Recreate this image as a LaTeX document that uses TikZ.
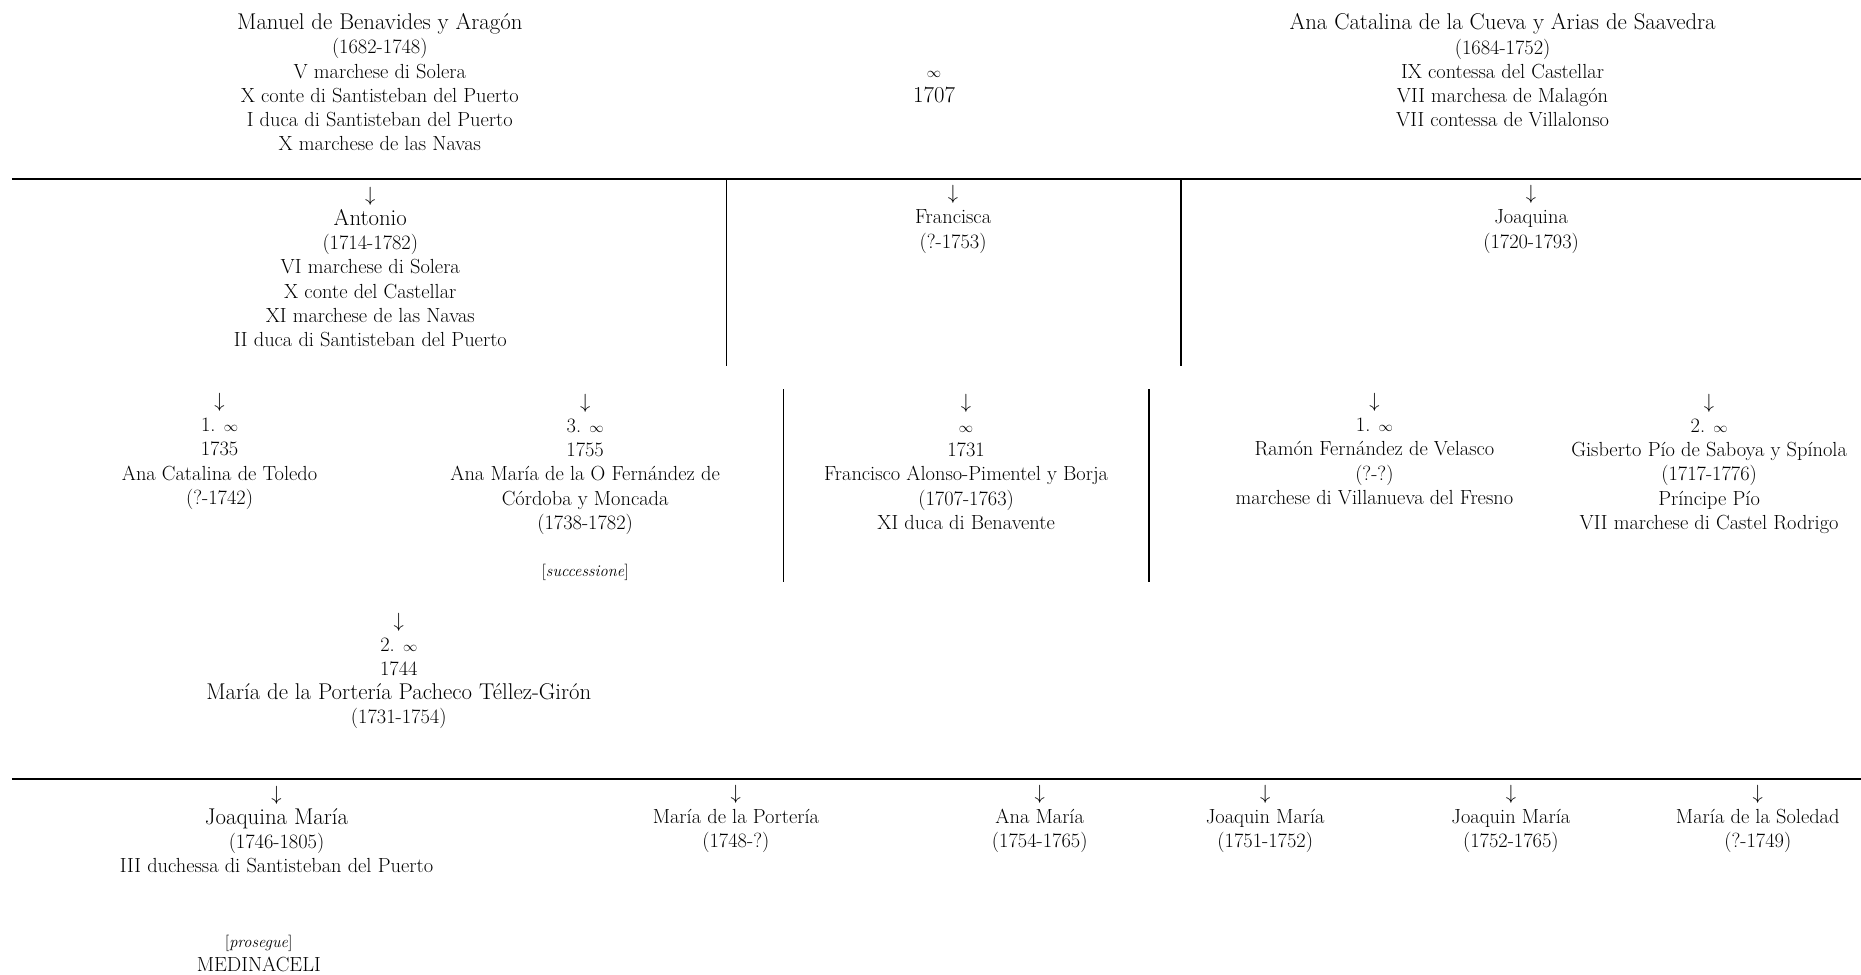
\documentclass[tikz,border=0pt]{standalone}
\usepackage{fontspec}
\newcommand{\pname}[1]{{\fontsize{19.2}{20.3}\selectfont #1}}
\newcommand{\smallinf}{{\fontsize{12.5}{20.3}\selectfont$\infty$}}
\newcommand{\dnarrow}{$\downarrow$}
\tikzset{
  every node/.style={inner sep=0pt, outer sep=0pt},
  txt/.style={align=center, anchor=base, font=\fontsize{17.2}{20.4}\selectfont},
  note/.style={align=center, anchor=base, font=\fontsize{13.8}{20.4}\selectfont},
  hrule/.style={line width=1.8pt},
  vrule/.style={line width=1.4pt},
}
\begin{document}
\begin{tikzpicture}[x=1pt,y=-1pt]
\useasboundingbox (0,0) rectangle (1568,821);

% --- generation 1 (anchor = baseline of last line)
\node[txt] (manuel) at (320,127) {\pname{Manuel de Benavides y Aragón}\\(1682-1748)\\V marchese di Solera\\X conte di Santisteban del Puerto\\I duca di Santisteban del Puerto\\X marchese de las Navas};
\node[txt] (marr) at (787,86) {\smallinf\\\pname{1707}};
\node[txt] (anacat) at (1266,106.7) {\pname{Ana Catalina de la Cueva y Arias de Saavedra}\\(1684-1752)\\IX contessa del Castellar\\VII marchesa de Malagón\\VII contessa de Villalonso};

% --- rules
\coordinate (r1l) at (10,151);
\coordinate (r1r) at (1568,151);
\draw[hrule] (r1l) -- (r1r);
\coordinate (a1t) at (612,151); \coordinate (a1b) at (612,308);
\coordinate (a2t) at (995,151); \coordinate (a2b) at (995,308);
\draw[vrule] (a1t) -- (a1b);
\draw[vrule] (a2t) -- (a2b);

% --- generation 2
\node[txt] (antonio) at (312,292) {\dnarrow\\\pname{Antonio}\\(1714-1782)\\VI marchese di Solera\\X conte del Castellar\\XI marchese de las Navas\\II duca di Santisteban del Puerto};
\node[txt] (francisca) at (803,209) {\dnarrow\\Francisca\\(?-1753)};
\node[txt] (joaquina) at (1290,209) {\dnarrow\\Joaquina\\(1720-1793)};

% --- spouses
\node[txt] (sp1) at (185,425) {\dnarrow\\1. \smallinf\\1735\\Ana Catalina de Toledo\\(?-1742)};
\node[txt] (sp3) at (493,446) {\dnarrow\\3. \smallinf\\1755\\Ana María de la O Fernández de\\Córdoba y Moncada\\(1738-1782)};
\node[note] (succ) at (493,486) {[\textit{successione}]};
\coordinate (b1t) at (660,328); \coordinate (b1b) at (660,490);
\coordinate (b2t) at (968,328); \coordinate (b2b) at (968,490);
\draw[vrule] (b1t) -- (b1b);
\draw[vrule] (b2t) -- (b2b);
\node[txt] (franc) at (814,446) {\dnarrow\\\smallinf\\1731\\Francisco Alonso-Pimentel y Borja\\(1707-1763)\\XI duca di Benavente};
\node[txt] (ramon) at (1158,425) {\dnarrow\\1. \smallinf\\Ramón Fernández de Velasco\\(?-?)\\marchese di Villanueva del Fresno};
\node[txt] (gisb) at (1440,446) {\dnarrow\\2. \smallinf\\Gisberto Pío de Saboya y Spínola\\(1717-1776)\\Príncipe Pío\\VII marchese di Castel Rodrigo};

\node[txt] (sp2) at (336,610) {\dnarrow\\2. \smallinf\\1744\\\pname{María de la Portería Pacheco Téllez-Girón}\\(1731-1754)};

% --- rule 2
\coordinate (r2l) at (10,656);
\coordinate (r2r) at (1568,656);
\draw[hrule] (r2l) -- (r2r);

% --- generation 3
\node[txt] (jm) at (233,735.5) {\dnarrow\\\pname{Joaquina María}\\(1746-1805)\\III duchessa di Santisteban del Puerto};
\node[txt] (pros) at (218,818.5) {{\fontsize{13.8}{20.4}\selectfont[\textit{prosegue}]}\\MEDINACELI};
\node[txt] (mp) at (620,714) {\dnarrow\\María de la Portería\\(1748-?)};
\node[txt] (am) at (876,714) {\dnarrow\\Ana María\\(1754-1765)};
\node[txt] (jq1) at (1066,714) {\dnarrow\\Joaquin María\\(1751-1752)};
\node[txt] (jq2) at (1273,714) {\dnarrow\\Joaquin María\\(1752-1765)};
\node[txt] (ms) at (1481,714) {\dnarrow\\María de la Soledad\\(?-1749)};
\end{tikzpicture}
\end{document}
